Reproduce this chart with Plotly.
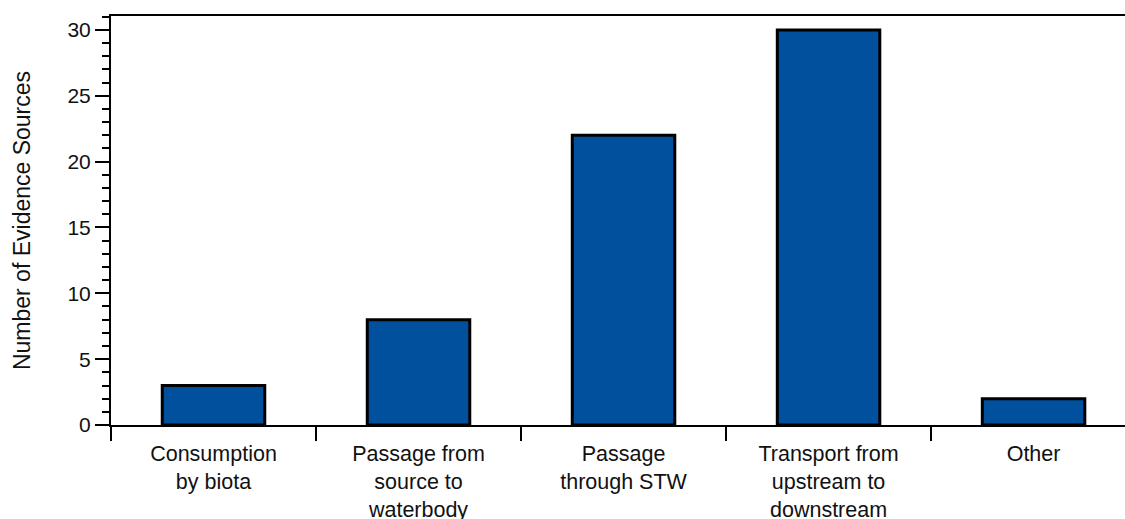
import plotly.graph_objects as go

categories = [
    "Consumption<br>by biota",
    "Passage from<br>source to<br>waterbody",
    "Passage<br>through STW",
    "Transport from<br>upstream to<br>downstream",
    "Other",
]
counts = [3, 8, 22, 30, 2]
y_ticks = [0, 5, 10, 15, 20, 25, 30]

BAR_BLUE = "#00509E"
FONT = "Liberation Sans, Arial, sans-serif"

fig = go.Figure(
    go.Bar(
        x=categories,
        y=counts,
        width=0.5,
        marker=dict(color=BAR_BLUE, line=dict(color="black", width=3)),
        hoverinfo="x+y",
    )
)

fig.update_layout(
    width=1125,
    height=519,
    margin=dict(l=111, r=0, t=16, b=94),
    paper_bgcolor="white",
    plot_bgcolor="white",
    font=dict(family=FONT, color="black"),
    showlegend=False,
    bargap=0.5,
)

fig.update_xaxes(
    type="category",
    range=[-0.5, 4.446],
    automargin=False,
    tickson="boundaries",
    ticks="outside",
    ticklen=14,
    tickwidth=1.5,
    tickcolor="black",
    ticklabelstandoff=8,
    showline=True,
    linecolor="black",
    linewidth=2,
    mirror=True,
    showgrid=False,
    tickfont=dict(size=21.5, family=FONT, color="#111"),
)

fig.update_yaxes(
    range=[0, 31.06],
    automargin=False,
    tickvals=y_ticks,
    ticks="outside",
    ticklen=14,
    tickwidth=1.5,
    tickcolor="black",
    minor=dict(dtick=1, ticks="outside", ticklen=7, tickwidth=1.5, tickcolor="black"),
    showline=True,
    linecolor="black",
    linewidth=2,
    showgrid=False,
    zeroline=False,
    tickfont=dict(size=21, family=FONT, color="#111"),
    title=dict(text="Number of Evidence Sources", font=dict(size=23, family=FONT, color="#111"), standoff=30),
)

fig.write_html("out.html")
